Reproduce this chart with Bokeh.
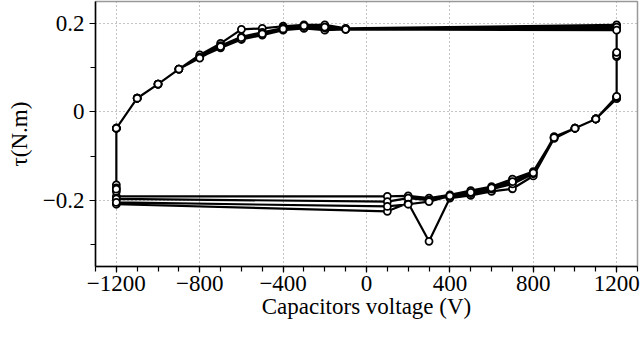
from bokeh.plotting import figure
from bokeh.embed import file_html
from bokeh.resources import INLINE
from bokeh.models import FixedTicker, CustomJSTickFormatter, Range1d

# voltage steps of one cycle
V_UP = [-1200, -1100, -1000, -900, -800, -700, -600, -500, -400, -300, -200, -100]
V_RIGHT = [1200, 1200, 1200]
V_DOWN = [1100, 1000, 900, 800, 700, 600, 500, 400, 300, 200, 100]
V_LEFT = [-1200, -1200]

# torque for each cycle (N.m)
c1_up = [-0.037, 0.031, 0.063, 0.097, 0.124, 0.145, 0.164, 0.174, 0.185, 0.189, 0.185, 0.187]
c1_right = [0.188, 0.133, 0.033]
c1_down = [-0.016, -0.037, -0.058, -0.135, -0.152, -0.169, -0.178, -0.188, -0.195, -0.190, -0.191]
c1_left = [-0.191, -0.165]

c2_up = [-0.037, 0.031, 0.063, 0.097, 0.129, 0.155, 0.187, 0.189, 0.194, 0.197, 0.197, 0.189]
c2_right = [0.197, 0.125, 0.030]
c2_down = [-0.016, -0.037, -0.060, -0.145, -0.174, -0.180, -0.189, -0.195, -0.293, -0.206, -0.225]
c2_left = [-0.209, -0.180]

c3_up = [-0.037, 0.031, 0.063, 0.097, 0.124, 0.150, 0.170, 0.180, 0.190, 0.193, 0.190, 0.188]
c3_right = [0.192, 0.128, 0.033]
c3_down = [-0.016, -0.037, -0.056, -0.140, -0.163, -0.175, -0.185, -0.192, -0.200, -0.195, -0.203]
c3_left = [-0.197, -0.172]

c4_up = [-0.037, 0.031, 0.063, 0.097, 0.122, 0.148, 0.168, 0.177, 0.188, 0.195, 0.192, 0.187]
c4_right = [0.185, 0.135, 0.035]
c4_down = [-0.016, -0.037, -0.058, -0.138, -0.158, -0.172, -0.182, -0.190, -0.203, -0.209, -0.214]
c4_left = [-0.205, -0.175]

end_v = [-1200]
end_t = [-0.037]

X_TICKS = [-1200, -800, -400, 0, 400, 800, 1200]
X_MINOR = list(range(-1300, 1301, 100))
Y_TICKS = [-0.2, 0.0, 0.2]
Y_MINOR = [-0.3, -0.2, -0.1, 0.0, 0.1, 0.2]

cycles = [
    (c1_up, c1_right, c1_down, c1_left),
    (c2_up, c2_right, c2_down, c2_left),
    (c3_up, c3_right, c3_down, c3_left),
    (c4_up, c4_right, c4_down, c4_left),
]
xs, ys = [], []
for up, right, down, left in cycles:
    xs += V_UP + V_RIGHT + V_DOWN + V_LEFT
    ys += up + right + down + left
xs += end_v
ys += end_t

FONT = "Liberation Serif"

p = figure(width=641, height=339, output_backend="svg", toolbar_location=None,
           x_range=Range1d(-1300, 1300), y_range=Range1d(-0.35, 0.25),
           min_border_left=95, min_border_right=4, min_border_top=1, min_border_bottom=73)
p.background_fill_color = "white"
p.border_fill_color = "white"
p.outline_line_color = "#999999"
p.outline_line_width = 1.5

p.line(xs, ys, line_color="black", line_width=2.2)
p.scatter(xs, ys, marker="circle", size=7, fill_color="white",
          line_color="black", line_width=1.8)

p.xaxis.ticker = FixedTicker(ticks=X_TICKS, minor_ticks=X_MINOR)
p.yaxis.ticker = FixedTicker(ticks=Y_TICKS, minor_ticks=Y_MINOR)
p.xaxis.formatter = CustomJSTickFormatter(code="""
    const v = Math.round(tick);
    return v < 0 ? "\\u2212" + Math.abs(v) : String(v);
""")
p.yaxis.formatter = CustomJSTickFormatter(code="""
    if (Math.abs(tick) < 1e-9) return "0";
    const s = Math.abs(tick).toFixed(1);
    return tick < 0 ? "\\u2212" + s : s;
""")

for ax in (p.xaxis[0], p.yaxis[0]):
    ax.axis_line_color = "black"
    ax.axis_line_width = 1.5
    ax.major_tick_line_color = "black"
    ax.minor_tick_line_color = "black"
    ax.major_tick_line_width = 1.2
    ax.minor_tick_line_width = 1.2
    ax.major_tick_in = 0
    ax.major_tick_out = 6
    ax.minor_tick_in = 0
    ax.minor_tick_out = 5
    ax.major_label_text_font = FONT
    ax.major_label_text_font_size = "23px"
    ax.major_label_text_color = "black"
    ax.axis_label_text_font = FONT
    ax.axis_label_text_font_size = "23px"
    ax.axis_label_text_font_style = "normal"
    ax.axis_label_text_color = "black"

p.xaxis.axis_label = "Capacitors voltage (V)"
p.yaxis.axis_label = "τ(N.m)"
p.xaxis.major_label_standoff = 3
p.xaxis.axis_label_standoff = 0
p.yaxis.major_label_standoff = 5
p.yaxis.axis_label_standoff = 8

p.xgrid.ticker = FixedTicker(ticks=X_TICKS)
p.ygrid.ticker = FixedTicker(ticks=Y_TICKS)
for g in (p.xgrid[0], p.ygrid[0]):
    g.grid_line_color = "#888888"
    g.grid_line_dash = "1 3"
    g.grid_line_width = 1

open("out.html", "w").write(file_html(p, INLINE))
